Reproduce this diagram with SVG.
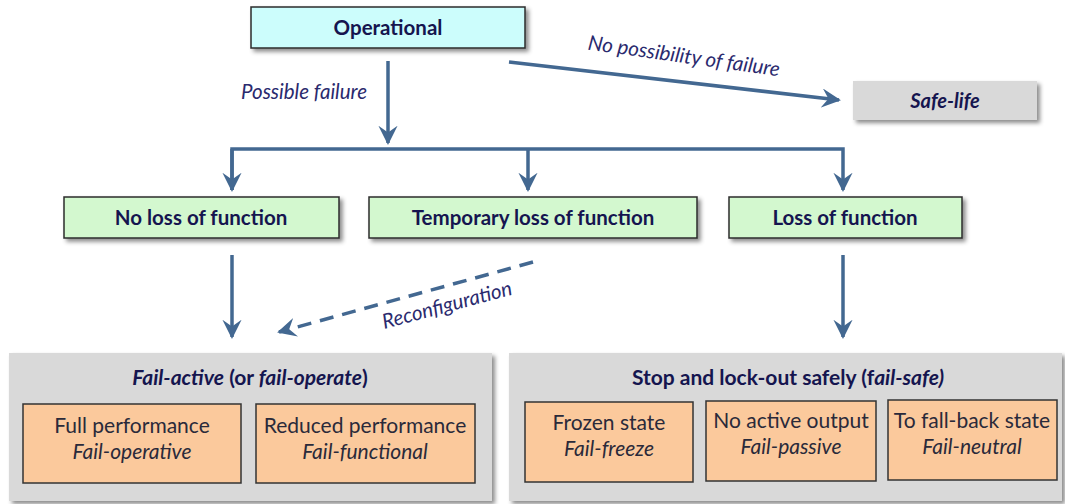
<svg xmlns="http://www.w3.org/2000/svg" width="1065" height="504" viewBox="0 0 1065 504">
<style>
.box{stroke:#2b2b2b;stroke-width:1.5}
.op{fill:#ccfdfc}
.green{fill:#d3f8cf}
.grey{fill:#d9d9d9;stroke:none}
.orange{fill:#fbc99c;stroke:#333;stroke-width:1.5}
.b{font-family:Lato,"Liberation Sans",sans-serif;font-weight:bold;fill:#15154f;text-anchor:middle}
.lbl{font-family:Lato,"Liberation Sans",sans-serif;font-style:italic;fill:#2a2a6e;font-size:20.5px}
.t{font-family:Lato,"Liberation Sans",sans-serif;fill:#2a2a3a;font-size:21px;text-anchor:middle}
.i{font-style:italic}
.con{stroke:#436891;stroke-width:3.5;fill:none}
</style>
<defs>
<filter id="sh" x="-10%" y="-10%" width="130%" height="140%">
<feDropShadow dx="3" dy="3" stdDeviation="2" flood-color="#000" flood-opacity="0.45"/>
</filter>
<marker id="ah" viewBox="0 0 10 10" refX="9" refY="5" markerWidth="5.5" markerHeight="5.5" markerUnits="strokeWidth" orient="auto">
<path d="M0,0 L10,5 L0,10 L3.5,5 z" fill="#436891"/>
</marker>
</defs>

<g id="connectors">
<line class="con" x1="388" y1="61" x2="388" y2="143" marker-end="url(#ah)"/>
<polyline class="con" points="232,190 232,149 843,149 843,190" marker-end="url(#ah)"/>
<line class="con" x1="232" y1="149" x2="232" y2="190" marker-end="url(#ah)"/>
<line class="con" x1="528" y1="149" x2="528" y2="190" marker-end="url(#ah)"/>
<line class="con" x1="509" y1="62" x2="839" y2="100" marker-end="url(#ah)"/>
<line class="con" x1="232" y1="255" x2="232" y2="337" marker-end="url(#ah)"/>
<line class="con" x1="843" y1="255" x2="843" y2="337" marker-end="url(#ah)"/>
<line class="con" x1="533" y1="262" x2="279" y2="332" stroke-dasharray="14 9" marker-end="url(#ah)"/>
<text class="lbl" x="241" y="99">Possible failure</text>
<text class="lbl" x="684" y="63" text-anchor="middle" transform="rotate(8 684 56)">No possibility of failure</text>
<text class="lbl" x="447" y="312" text-anchor="middle" transform="rotate(-15 447 305)">Reconfiguration</text>
</g>

<g id="operational">
<rect class="box op" x="251" y="7" width="274" height="41" filter="url(#sh)"/>
<text class="b" x="388" y="35" font-size="20.5">Operational</text>
</g>

<g id="safe-life">
<rect class="grey" x="853" y="81" width="184" height="39" filter="url(#sh)"/>
<text class="b i" x="945" y="108" font-size="20">Safe-life</text>
</g>

<g id="no-loss">
<rect class="box green" x="64" y="197" width="275" height="41" filter="url(#sh)"/>
<text class="b" x="201" y="225" font-size="20.5">No loss of function</text>
</g>

<g id="temporary-loss">
<rect class="box green" x="369" y="197" width="328" height="41" filter="url(#sh)"/>
<text class="b" x="533" y="225" font-size="20.5">Temporary loss of function</text>
</g>

<g id="loss">
<rect class="box green" x="729" y="197" width="233" height="41" filter="url(#sh)"/>
<text class="b" x="845" y="225" font-size="20.5">Loss of function</text>
</g>

<g id="fail-active">
<rect class="grey" x="9" y="353" width="483" height="148" filter="url(#sh)"/>
<text class="b" x="250" y="385" font-size="21"><tspan class="i">Fail-active</tspan> (or <tspan class="i">fail-operate</tspan>)</text>
</g>

<g id="fail-operative">
<rect class="orange" x="23" y="404" width="218" height="79"/>
<text class="t" x="132" y="433">Full performance</text>
<text class="t i" x="132" y="459">Fail-operative</text>
</g>

<g id="fail-functional">
<rect class="orange" x="256" y="404" width="219" height="79"/>
<text class="t" x="365" y="433">Reduced performance</text>
<text class="t i" x="365" y="459">Fail-functional</text>
</g>

<g id="fail-safe">
<rect class="grey" x="509" y="353" width="553" height="148" filter="url(#sh)"/>
<text class="b" x="788" y="385" font-size="21">Stop and lock-out safely (f<tspan class="i">ail-safe)</tspan></text>
</g>

<g id="fail-freeze">
<rect class="orange" x="525" y="402" width="168" height="80"/>
<text class="t" x="609" y="430">Frozen state</text>
<text class="t i" x="609" y="456">Fail-freeze</text>
</g>

<g id="fail-passive">
<rect class="orange" x="706" y="401" width="170" height="80"/>
<text class="t" x="791" y="428">No active output</text>
<text class="t i" x="791" y="454">Fail-passive</text>
</g>

<g id="fail-neutral">
<rect class="orange" x="888" y="400" width="169" height="80"/>
<text class="t" x="972" y="428">To fall-back state</text>
<text class="t i" x="972" y="454">Fail-neutral</text>
</g>
</svg>
